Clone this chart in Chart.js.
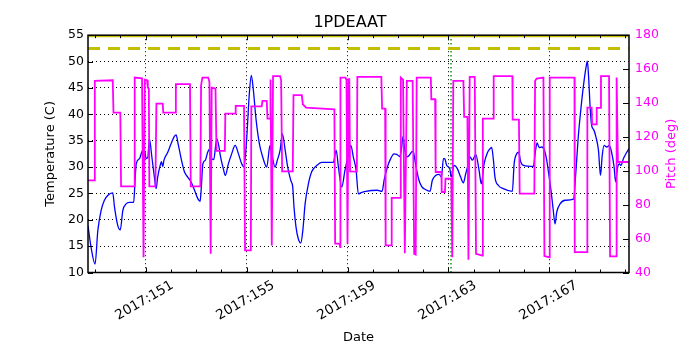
<!DOCTYPE html>
<html>
<head>
<meta charset="utf-8">
<script src="https://cdn.jsdelivr.net/npm/chart.js@4.4.0/dist/chart.umd.min.js"></script>
<style>
  html, body { margin: 0; padding: 0; background: #fff; }
</style>
</head>
<body>
<canvas id="chart" width="700" height="350"></canvas>
<script>
// x range (day of year 2017) and tick days
const xMin = 148.72;
const xMax = 170.15;
const xTicks = [151, 155, 159, 163, 167];

// 1PDEAAT temperature (C)
const tempDays = [148.72, 148.84, 149.00, 149.11, 149.24, 149.37, 149.50, 149.70, 149.77, 149.90,
  150.00, 150.10, 150.23, 150.36, 150.53, 150.57, 150.63, 150.76, 150.89, 150.97,
  151.02, 151.09, 151.15, 151.25, 151.35, 151.42, 151.48, 151.58, 151.63, 151.68,
  151.73, 151.88, 152.01, 152.14, 152.21, 152.29, 152.41, 152.54, 152.67, 152.80,
  152.94, 153.07, 153.16, 153.21, 153.27, 153.37, 153.46, 153.56, 153.62, 153.70,
  153.82, 153.92, 153.96, 154.08, 154.16, 154.28, 154.41, 154.55, 154.68, 154.81,
  154.90, 155.01, 155.11, 155.19, 155.27, 155.38, 155.51, 155.64, 155.80, 155.93,
  156.00, 156.13, 156.22, 156.33, 156.42, 156.53, 156.63, 156.75, 156.83, 156.88,
  156.96, 157.05, 157.15, 157.23, 157.32, 157.45, 157.58, 157.78, 157.98, 158.44,
  158.55, 158.64, 158.77, 158.90, 159.04, 159.13, 159.23, 159.34, 159.43, 159.52,
  159.72, 160.18, 160.37, 160.45, 160.58, 160.71, 160.84, 160.95, 161.07, 161.13,
  161.20, 161.27, 161.35, 161.44, 161.53, 161.60, 161.66, 161.74, 161.83, 161.94,
  162.10, 162.27, 162.36, 162.49, 162.63, 162.72, 162.80, 162.85, 162.93, 163.05,
  163.11, 163.22, 163.35, 163.48, 163.59, 163.68, 163.77, 163.85, 163.95, 164.08,
  164.21, 164.30, 164.41, 164.54, 164.65, 164.71, 164.78, 164.84, 164.98, 165.17,
  165.53, 165.60, 165.70, 165.78, 165.86, 165.97, 166.36, 166.45, 166.51, 166.59,
  166.69, 166.80, 166.89, 166.97, 167.06, 167.15, 167.22, 167.29, 167.42, 167.62,
  167.95, 168.05, 168.14, 168.24, 168.34, 168.45, 168.50, 168.55, 168.61, 168.67,
  168.76, 168.84, 168.94, 169.02, 169.09, 169.16, 169.27, 169.37, 169.46, 169.56,
  169.62, 169.70, 169.77, 169.83, 169.93, 170.06, 170.15];
const tempVals = [18.9, 14.8, 11.6, 18.0, 21.8, 23.7, 24.6, 25.1, 22.4, 18.9,
  18.1, 21.8, 23.0, 23.3, 23.3, 26.2, 30.6, 31.6, 33.2, 33.0,
  31.6, 31.8, 35.4, 31.9, 28.1, 25.9, 28.1, 30.3, 31.0, 30.1,
  31.3, 32.8, 34.4, 35.8, 36.1, 34.4, 31.6, 29.1, 28.1, 27.2,
  25.6, 24.0, 23.5, 26.2, 30.6, 31.3, 32.8, 33.5, 31.6, 31.4,
  35.4, 33.5, 32.2, 29.7, 28.4, 30.6, 32.5, 34.1, 32.5, 30.6,
  30.0, 35.7, 43.9, 47.4, 44.6, 38.9, 34.4, 31.9, 30.0, 34.1,
  32.5, 30.0, 31.3, 33.2, 36.3, 33.2, 30.0, 27.5, 26.2, 22.4,
  18.6, 16.4, 15.6, 18.0, 23.0, 26.8, 29.1, 30.3, 30.9, 30.9,
  33.2, 30.0, 26.2, 29.4, 32.5, 34.1, 31.9, 29.4, 24.9, 25.1,
  25.4, 25.6, 25.4, 27.5, 30.0, 31.6, 32.5, 32.4, 32.0, 33.2,
  35.8, 33.2, 31.9, 32.2, 32.8, 33.0, 31.6, 29.4, 27.5, 26.3,
  25.7, 25.4, 27.5, 28.4, 28.6, 28.1, 31.6, 31.6, 30.3, 29.7,
  28.1, 30.3, 29.7, 28.1, 27.0, 28.7, 30.3, 31.9, 31.3, 32.4,
  29.4, 26.8, 30.6, 32.7, 33.5, 33.7, 31.3, 28.1, 26.5, 25.9,
  25.4, 30.6, 32.5, 32.8, 31.0, 30.3, 30.1, 33.2, 34.6, 33.7,
  33.8, 33.2, 31.3, 28.7, 25.6, 21.8, 19.2, 21.5, 23.0, 23.7,
  23.9, 29.4, 35.7, 40.8, 45.2, 49.0, 50.1, 47.1, 41.4, 37.9,
  37.0, 35.7, 33.2, 28.4, 32.2, 34.1, 33.8, 34.1, 32.8, 30.0,
  27.2, 30.0, 30.6, 30.3, 31.6, 32.8, 33.5];

// pitch (deg)
const pitchDays = [148.72, 148.96, 148.99, 149.70, 149.73, 150.00, 150.03, 150.55, 150.57, 150.86,
  150.92, 150.97, 151.06, 151.09, 151.13, 151.15, 151.39, 151.43, 151.68, 151.70,
  152.18, 152.20, 152.76, 152.79, 153.17, 153.20, 153.25, 153.48, 153.53, 153.58,
  153.62, 153.77, 153.81, 154.14, 154.16, 154.55, 154.57, 154.90, 154.94, 155.17,
  155.19, 155.60, 155.63, 155.80, 155.83, 155.93, 155.95, 156.00, 156.05, 156.33,
  156.37, 156.41, 156.83, 156.86, 157.19, 157.23, 157.36, 158.48, 158.51, 158.68,
  158.71, 158.72, 158.92, 158.96, 159.00, 159.04, 159.07, 159.10, 159.37, 159.39,
  160.34, 160.37, 160.49, 160.51, 160.74, 160.75, 161.08, 161.11, 161.20, 161.27,
  161.35, 161.58, 161.64, 161.70, 161.74, 162.30, 162.32, 162.47, 162.49, 162.72,
  162.73, 162.86, 162.88, 163.11, 163.15, 163.19, 163.59, 163.62, 163.75, 163.79,
  163.84, 164.04, 164.09, 164.34, 164.36, 164.78, 164.79, 165.53, 165.54, 165.79,
  165.82, 166.40, 166.43, 166.49, 166.76, 166.80, 167.00, 167.01, 167.99, 168.00,
  168.49, 168.50, 168.67, 168.69, 168.86, 168.87, 169.03, 169.04, 169.36, 169.40,
  169.64, 169.66, 169.71, 170.15];
const pitchVals = [94.4, 94.4, 153.0, 153.4, 134.3, 134.3, 90.8, 90.8, 155.0, 154.6,
  49.0, 153.8, 153.4, 149.1, 148.5, 90.8, 90.8, 139.6, 139.6, 134.3,
  134.3, 151.1, 151.1, 90.8, 90.8, 150.5, 155.0, 155.0, 152.5, 51.0,
  149.0, 148.5, 111.7, 111.7, 133.7, 133.7, 138.3, 138.3, 53.0, 53.0,
  138.0, 138.0, 141.2, 141.2, 130.8, 130.8, 153.8, 56.0, 155.8, 155.8,
  153.5, 99.7, 99.7, 144.6, 144.6, 139.2, 137.3, 136.3, 57.0, 57.0,
  55.0, 155.0, 155.0, 153.4, 57.0, 154.0, 154.0, 99.7, 99.5, 155.4,
  155.4, 136.7, 136.7, 56.0, 56.0, 84.0, 84.0, 155.0, 153.8, 51.4,
  153.0, 153.0, 51.0, 50.6, 155.0, 155.0, 142.2, 142.2, 99.3, 99.3,
  87.5, 87.5, 95.3, 95.3, 49.0, 153.0, 153.0, 131.8, 131.8, 47.5,
  155.4, 155.4, 51.0, 50.0, 130.8, 130.8, 155.8, 155.8, 130.2, 130.2,
  86.5, 86.5, 153.0, 154.4, 155.0, 49.7, 49.0, 155.0, 155.0, 52.0,
  52.0, 137.3, 137.3, 127.4, 127.4, 137.1, 137.1, 155.8, 155.8, 49.5,
  49.5, 155.0, 105.2, 105.2];

const planningLimit = 52.5;
const cautionLimit = 55;
const markerDay = 163.1;

const FONT = '"DejaVu Sans", sans-serif';

const tempPoints = tempDays.map((d, i) => ({ x: d, y: tempVals[i] }));
const pitchPoints = pitchDays.map((d, i) => ({ x: d, y: pitchVals[i] }));

// inward ticks, frame and right-hand axis title, matplotlib style
const axesFrame = {
  id: 'axesFrame',
  afterDraw(chart) {
    const { ctx, chartArea: a } = chart;
    const sx = chart.scales.x, sy = chart.scales.y, sy2 = chart.scales.y2;
    ctx.save();
    ctx.strokeStyle = '#000';
    ctx.lineWidth = 1;
    ctx.beginPath();
    for (let d = Math.ceil(sx.min); d <= sx.max; d++) {
      const px = Math.round(sx.getPixelForValue(d)) + 0.5;
      const len = xTicks.includes(d) ? 5 : 3;
      ctx.moveTo(px, a.bottom); ctx.lineTo(px, a.bottom - len);
      ctx.moveTo(px, a.top); ctx.lineTo(px, a.top + len);
    }
    sy.ticks.forEach(t => {
      const py = Math.round(sy.getPixelForValue(t.value)) + 0.5;
      ctx.moveTo(a.left, py); ctx.lineTo(a.left + 5, py);
    });
    sy2.ticks.forEach(t => {
      const py = Math.round(sy2.getPixelForValue(t.value)) + 0.5;
      ctx.moveTo(a.right, py); ctx.lineTo(a.right - 6, py);
    });
    ctx.stroke();
    ctx.lineWidth = 1.5;
    ctx.strokeRect(a.left, a.top, a.right - a.left, a.bottom - a.top);

    ctx.translate(672, (a.top + a.bottom) / 2);
    ctx.rotate(-Math.PI / 2);
    ctx.fillStyle = '#ff00ff';
    ctx.font = '13px ' + FONT;
    ctx.textAlign = 'center';
    ctx.textBaseline = 'middle';
    ctx.fillText('Pitch (deg)', 0, 0);
    ctx.restore();
  }
};

new Chart(document.getElementById('chart'), {
  type: 'line',
  data: {
    datasets: [
      {
        label: 'Pitch',
        data: pitchPoints,
        yAxisID: 'y2',
        borderColor: '#ff00ff',
        borderWidth: 1.8,
        pointRadius: 0,
        tension: 0,
        order: 0,
      },
      {
        label: '1PDEAAT',
        data: tempPoints,
        yAxisID: 'y',
        borderColor: '#0000ff',
        borderWidth: 1.3,
        pointRadius: 0,
        cubicInterpolationMode: 'monotone',
        order: 1,
      },
      {
        label: 'planning limit',
        data: [{ x: xMin, y: planningLimit }, { x: xMax, y: planningLimit }],
        yAxisID: 'y',
        borderColor: '#c2bf00',
        borderWidth: 3,
        borderDash: [12, 8],
        pointRadius: 0,
        order: 2,
      },
      {
        label: 'caution limit',
        data: [{ x: xMin, y: cautionLimit }, { x: xMax, y: cautionLimit }],
        yAxisID: 'y',
        borderColor: '#c2bf00',
        borderWidth: 4,
        pointRadius: 0,
        clip: 0,
        order: 3,
      },
      {
        label: 'marker',
        data: [{ x: markerDay, y: 10 }, { x: markerDay, y: 55 }],
        yAxisID: 'y',
        borderColor: '#00a000',
        borderWidth: 1.5,
        borderDash: [1.5, 2.5],
        pointRadius: 0,
        order: 4,
      },
    ],
  },
  options: {
    responsive: false,
    animation: false,
    layout: { padding: { left: 0, right: 0, top: 0, bottom: 0 } },
    plugins: {
      legend: { display: false },
      tooltip: { enabled: false },
      title: {
        display: true,
        text: '1PDEAAT',
        color: '#000',
        font: { family: FONT, size: 16, weight: 'normal' },
        padding: { top: 13, bottom: 3 },
      },
    },
    scales: {
      x: {
        type: 'linear',
        min: xMin,
        max: xMax,
        afterBuildTicks: s => { s.ticks = xTicks.map(v => ({ value: v })); },
        afterFit: s => { s.height = 77.5; },
        ticks: {
          autoSkip: false,
          minRotation: 30,
          maxRotation: 30,
          padding: 5,
          labelOffset: 27,
          color: '#000',
          font: { family: FONT, size: 13.5 },
          callback: v => '2017:' + v,
        },
        grid: { color: '#000', lineWidth: 1, drawTicks: false, tickLength: 0 },
        border: { display: false, dash: [1, 3] },
        title: {
          display: true,
          text: 'Date',
          color: '#000',
          font: { family: FONT, size: 13 },
          padding: { top: 4, bottom: 5 },
        },
      },
      y: {
        position: 'left',
        min: 10,
        max: 55,
        afterFit: s => { s.width = 88; },
        ticks: {
          stepSize: 5,
          padding: 4,
          color: '#000',
          font: { family: FONT, size: 12.5 },
        },
        grid: { color: '#000', lineWidth: 1, drawTicks: false, tickLength: 0 },
        border: { display: false, dash: [1, 3] },
        title: {
          display: true,
          text: 'Temperature (C)',
          color: '#000',
          font: { family: FONT, size: 13 },
          padding: { top: 43, bottom: 0 },
        },
      },
      y2: {
        position: 'right',
        min: 40,
        max: 180,
        afterFit: s => { s.width = 71; },
        ticks: {
          stepSize: 20,
          padding: 6,
          color: '#ff00ff',
          font: { family: FONT, size: 12.5 },
        },
        grid: { drawOnChartArea: false, drawTicks: false, tickLength: 0 },
        border: { display: false },
      },
    },
  },
  plugins: [axesFrame],
});
</script>
</body>
</html>
